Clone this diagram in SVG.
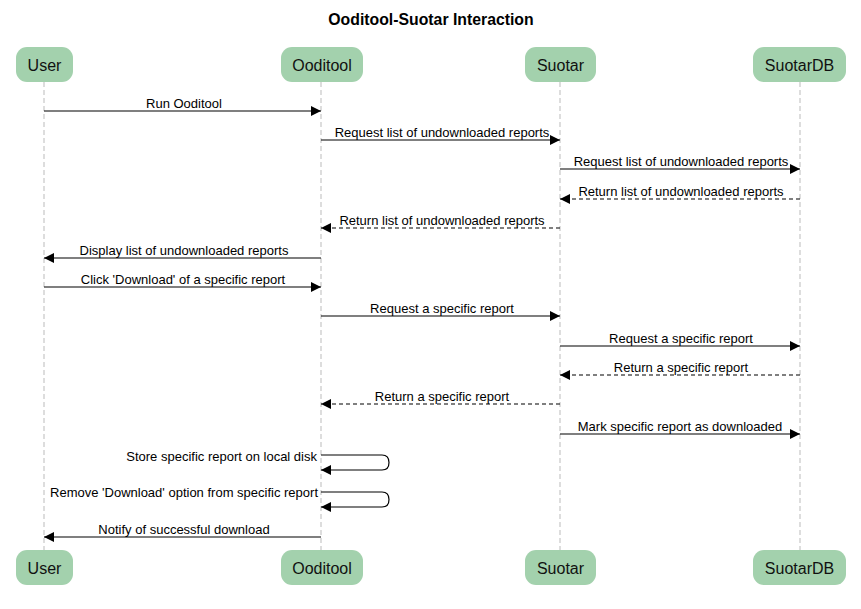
<svg xmlns="http://www.w3.org/2000/svg" width="861" height="609" viewBox="0 0 861 609">
<style>
.bg{fill:#fff}
.title{font-family:"Liberation Sans",Arial,sans-serif;font-size:15.8px;font-weight:bold;fill:#000;text-anchor:middle}
.box{fill:#a3d1ad;stroke:none}
.bt{font-family:"Liberation Sans",Arial,sans-serif;font-size:16px;fill:#111;text-anchor:middle;dominant-baseline:central}
.life{stroke:#bbb;stroke-width:1;stroke-dasharray:5,3;fill:none}
.m{stroke:#000;stroke-width:1.2;fill:none}
.d{stroke-dasharray:4,3}
.lbl{font-family:"Liberation Sans",Arial,sans-serif;font-size:13px;fill:#000;text-anchor:middle}
.lr{text-anchor:end}
</style>
<defs>
<marker id="ah" markerWidth="10" markerHeight="10" refX="10" refY="5" orient="auto" markerUnits="userSpaceOnUse">
<path d="M0,0 L10,5 L0,10 Z" fill="#000"/>
</marker>
</defs>
<rect class="bg" x="0" y="0" width="861" height="609"/>
<text class="title" x="431" y="25">Ooditool-Suotar Interaction</text>
<g id="lifelines">
<line class="life" x1="44" y1="82" x2="44" y2="550"/>
<line class="life" x1="321" y1="82" x2="321" y2="550"/>
<line class="life" x1="560" y1="82" x2="560" y2="550"/>
<line class="life" x1="800" y1="82" x2="800" y2="550"/>
</g>
<g id="user"><rect class="box" x="16" y="47" width="57" height="35" rx="11"/><text class="bt" x="44.5" y="65">User</text>
<rect class="box" x="16" y="550" width="57" height="35" rx="11"/><text class="bt" x="44.5" y="568">User</text></g>
<g id="ooditool"><rect class="box" x="281" y="47" width="82" height="35" rx="11"/><text class="bt" x="322" y="65">Ooditool</text>
<rect class="box" x="281" y="550" width="82" height="35" rx="11"/><text class="bt" x="322" y="568">Ooditool</text></g>
<g id="suotar"><rect class="box" x="525" y="47" width="71" height="35" rx="11"/><text class="bt" x="560.5" y="65">Suotar</text>
<rect class="box" x="525" y="550" width="71" height="35" rx="11"/><text class="bt" x="560.5" y="568">Suotar</text></g>
<g id="suotardb"><rect class="box" x="753" y="47" width="93" height="35" rx="11"/><text class="bt" x="799.5" y="65">SuotarDB</text>
<rect class="box" x="753" y="550" width="93" height="35" rx="11"/><text class="bt" x="799.5" y="568">SuotarDB</text></g>
<g id="connectors">
<line class="m" x1="44" y1="111" x2="321" y2="111" marker-end="url(#ah)"/>
<text class="lbl" x="184" y="108">Run Ooditool</text>
<line class="m" x1="321" y1="140" x2="560" y2="140" marker-end="url(#ah)"/>
<text class="lbl" x="442" y="137">Request list of undownloaded reports</text>
<line class="m" x1="560" y1="169" x2="800" y2="169" marker-end="url(#ah)"/>
<text class="lbl" x="681" y="166">Request list of undownloaded reports</text>
<line class="m d" x1="800" y1="199" x2="560" y2="199" marker-end="url(#ah)"/>
<text class="lbl" x="681" y="196">Return list of undownloaded reports</text>
<line class="m d" x1="560" y1="228" x2="321" y2="228" marker-end="url(#ah)"/>
<text class="lbl" x="442" y="225">Return list of undownloaded reports</text>
<line class="m" x1="321" y1="258" x2="44" y2="258" marker-end="url(#ah)"/>
<text class="lbl" x="184" y="255">Display list of undownloaded reports</text>
<line class="m" x1="44" y1="287" x2="321" y2="287" marker-end="url(#ah)"/>
<text class="lbl" x="183" y="284">Click 'Download' of a specific report</text>
<line class="m" x1="321" y1="316" x2="560" y2="316" marker-end="url(#ah)"/>
<text class="lbl" x="442" y="313">Request a specific report</text>
<line class="m" x1="560" y1="346" x2="800" y2="346" marker-end="url(#ah)"/>
<text class="lbl" x="681" y="343">Request a specific report</text>
<line class="m d" x1="800" y1="375" x2="560" y2="375" marker-end="url(#ah)"/>
<text class="lbl" x="681" y="372">Return a specific report</text>
<line class="m d" x1="560" y1="404" x2="321" y2="404" marker-end="url(#ah)"/>
<text class="lbl" x="442" y="401">Return a specific report</text>
<line class="m" x1="560" y1="434" x2="800" y2="434" marker-end="url(#ah)"/>
<text class="lbl" x="680" y="431">Mark specific report as downloaded</text>
<path class="m" d="M321,455 H382 Q389,455 389,462.5 Q389,470 382,470 H321" marker-end="url(#ah)"/>
<text class="lbl lr" x="317" y="461">Store specific report on local disk</text>
<path class="m" d="M321,492 H382 Q389,492 389,499.5 Q389,507 382,507 H321" marker-end="url(#ah)"/>
<text class="lbl lr" x="318" y="497">Remove 'Download' option from specific report</text>
<line class="m" x1="321" y1="537" x2="44" y2="537" marker-end="url(#ah)"/>
<text class="lbl" x="184" y="534">Notify of successful download</text>
</g>
</svg>
